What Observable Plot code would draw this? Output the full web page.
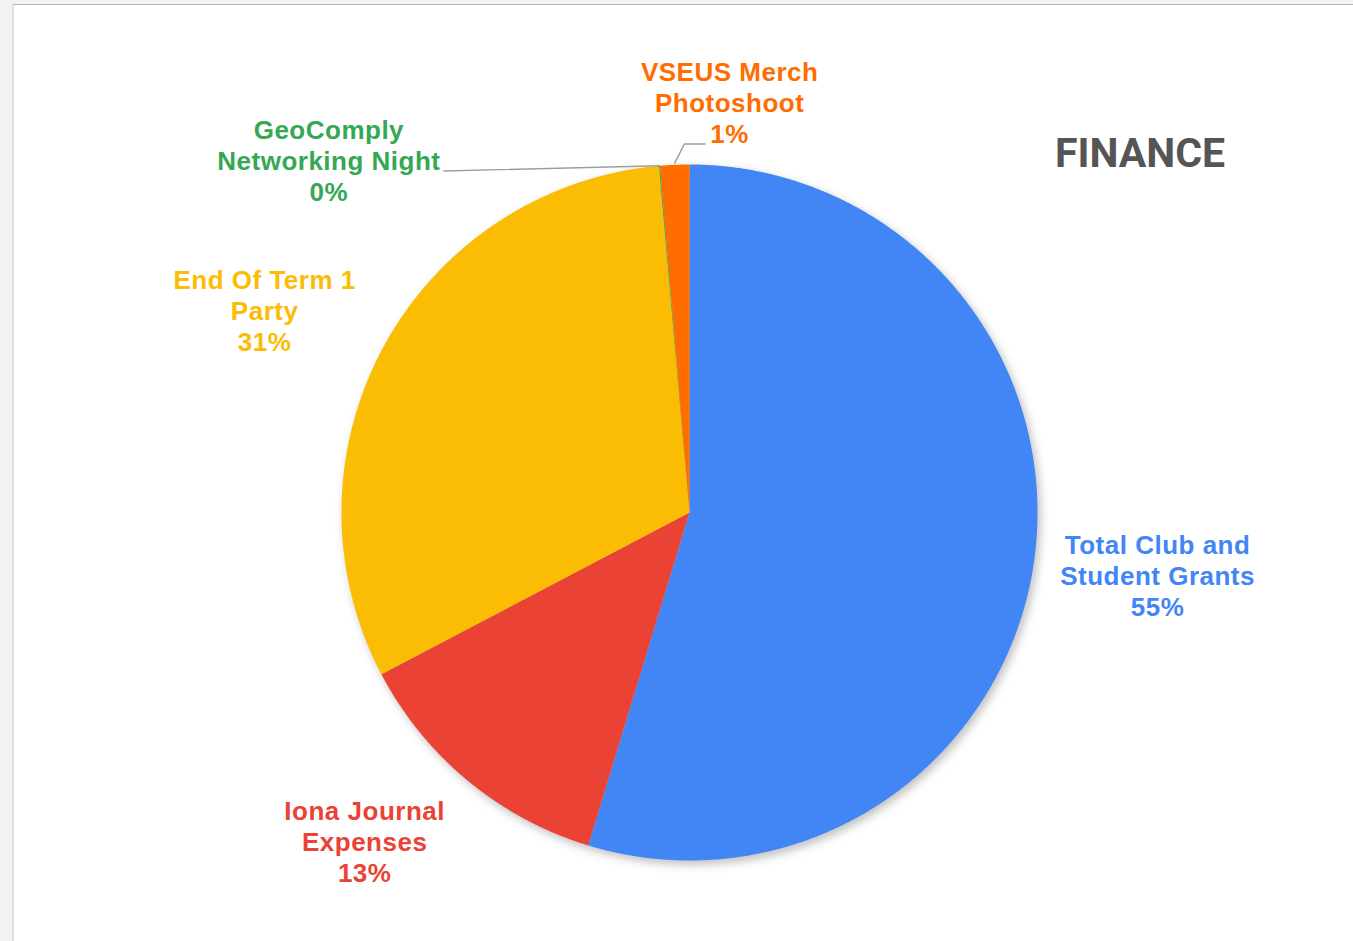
<!DOCTYPE html>
<html><head><meta charset="utf-8">
<script src="https://cdn.jsdelivr.net/npm/d3@7"></script>
<script src="https://cdn.jsdelivr.net/npm/@observablehq/plot@0.6"></script>
<style>
html,body{margin:0;padding:0;background:#f4f3f1;width:1353px;height:941px;overflow:hidden;}
#card{position:absolute;left:12px;top:4px;width:1341px;height:937px;background:#fff;border-top:1px solid #b5b1ad;border-left:2px solid #e2e0dd;box-sizing:border-box;}
#chart{position:absolute;left:0;top:0;}
#title{position:absolute;left:1055px;top:133px;font-family:Roboto;font-weight:700;font-size:41px;color:#555;line-height:41px;}
</style></head><body>
<div id="card"></div>
<div id="chart"></div>
<div id="title">FINANCE</div>
<script>
// ---- data ----
const categories = ["Total Club and Student Grants", "Iona Journal Expenses", "End Of Term 1 Party", "GeoComply Networking Night", "VSEUS Merch Photoshoot"];
const labelLines = [["Total Club and", "Student Grants"], ["Iona Journal", "Expenses"], ["End Of Term 1", "Party"], ["GeoComply", "Networking Night"], ["VSEUS Merch", "Photoshoot"]];
const shares = [54.7, 12.6, 31.3, 0.05, 1.35];
const colors = ["#4285f4", "#ea4335", "#fbbc04", "#34a853", "#ff6d01"];

// ---- layout ----
const W = 1353, H = 941, R = 348, CX = 689, CY = 512;
const FONT_PX = 26, LETTER_PX = 0.5, LINE_PX = 31;
const FONT = `bold ${FONT_PX}px 'Liberation Sans', Arial, sans-serif`;
const nudge = {1: [-0.098, -0.009], 2: [-0.043, 0]};
const total = d3.sum(shares);
let acc = 0;
const slices = categories.map((name, i) => {
  const a0 = acc / total * 2 * Math.PI; acc += shares[i];
  const a1 = acc / total * 2 * Math.PI;
  return {name, i, a0, a1, mid: (a0 + a1) / 2, share: shares[i]};
});
const pt = (a, r) => [r * Math.sin(a), r * Math.cos(a)];

const sliceRows = [];
for (const s of slices) {
  sliceRows.push({name: s.name, x: 0, y: 0});
  const n = Math.max(2, Math.ceil((s.a1 - s.a0) / (Math.PI / 720)));
  for (let k = 0; k <= n; k++) {
    const [x, y] = pt(s.a0 + (s.a1 - s.a0) * k / n, 1);
    sliceRows.push({name: s.name, x, y});
  }
}

const ctx = document.createElement("canvas").getContext("2d");
ctx.font = FONT;
const textW = l => ctx.measureText(l).width + LETTER_PX * l.length;
const labelRows = [], leaderRows = [];
for (const s of slices) {
  const lines = [...labelLines[s.i], Math.round(s.share) + "%"];
  const w = d3.max(lines, textW) / R;
  const h = lines.length * LINE_PX / R;
  let cx, cy;
  if (s.share >= 5) {
    const [ux, uy] = pt(s.mid, 1);
    const g = 1.08;
    const [nx, ny] = nudge[s.i] || [0, 0];
    cx = g * ux + ux * w / 2 + nx;
    cy = g * uy + uy * h / 2 + ny;
  } else if (s.i === 3) {
    const [sx, sy] = pt(s.mid, 1);
    cx = sx - 0.95; cy = sy + 0.015;
    leaderRows.push({k: "g", x: sx, y: sy}, {k: "g", x: cx + w / 2 + 0.01, y: cy - 0.03});
  } else {
    const [sx, sy] = pt(s.mid, 1.005);
    const p1 = [sx + 0.028, sy + 0.055];
    const p2 = [p1[0] + 0.06, p1[1]];
    leaderRows.push({k: "o", x: sx, y: sy}, {k: "o", x: p1[0], y: p1[1]}, {k: "o", x: p2[0], y: p2[1]});
    cx = sx + 0.158; cy = sy + 0.176;
  }
  labelRows.push({name: s.name, x: cx, y: cy, text: lines.join("\n")});
}

const chart = Plot.plot({
  width: W, height: H,
  margin: 0,
  x: {domain: [-CX / R, (W - CX) / R], axis: null},
  y: {domain: [-(H - CY) / R, CY / R], axis: null},
  color: {domain: categories, range: colors},
  style: {background: "transparent", overflow: "visible"},
  marks: [
    Plot.line(sliceRows, {x: "x", y: "y", z: "name", fill: "name", stroke: null, curve: "linear-closed"}),
    Plot.line(leaderRows, {x: "x", y: "y", z: "k", stroke: "#9e9e9e", strokeWidth: 1.4}),
    Plot.text(labelRows, {x: "x", y: "y", text: "text", fill: "name", fontSize: FONT_PX, fontWeight: "bold",
      fontFamily: "'Liberation Sans', Arial, sans-serif", lineHeight: LINE_PX / FONT_PX, textAnchor: "middle"})
  ]
});
d3.select(chart).select('g[aria-label="line"]').style("filter", "drop-shadow(3px 4px 5px rgba(0,0,0,0.25))");
d3.select(chart).select('g[aria-label="text"]').style("letter-spacing", LETTER_PX + "px");
document.getElementById("chart").appendChild(chart);
</script>
</body></html>
